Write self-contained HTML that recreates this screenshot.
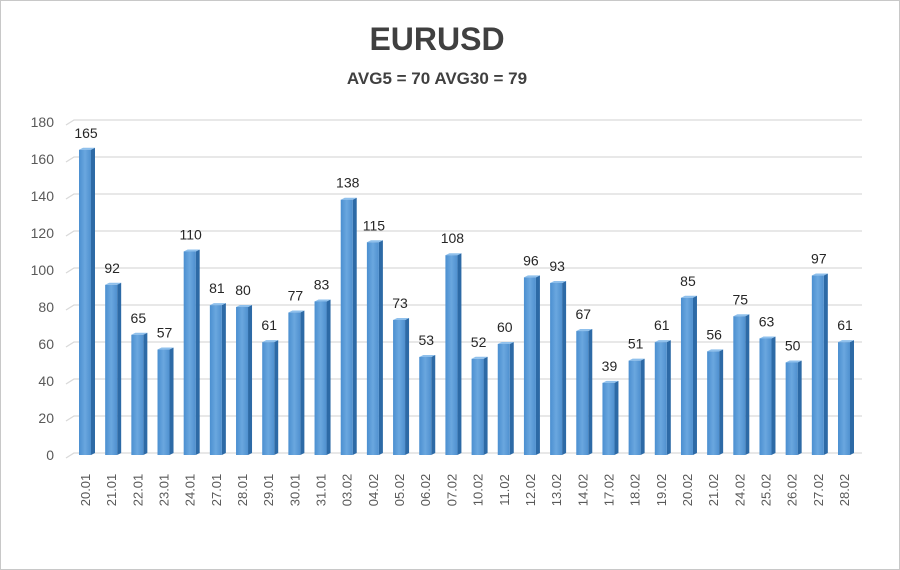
<!DOCTYPE html>
<html><head><meta charset="utf-8"><style>
html,body{margin:0;padding:0;background:#fff}
svg{display:block;font-family:"Liberation Sans",sans-serif}
</style></head><body>
<svg width="900" height="570" viewBox="0 0 900 570">
<defs>
<linearGradient id="bf" x1="0" x2="1" y1="0" y2="0">
<stop offset="0" stop-color="#4b8fd0"/><stop offset="0.5" stop-color="#6aa7df"/><stop offset="1" stop-color="#4f90cf"/>
</linearGradient>
</defs>
<rect x="0.5" y="0.5" width="899" height="569" fill="#fff" stroke="#c8c8c8"/>
<text x="437" y="50" text-anchor="middle" font-size="32" font-weight="bold" fill="#404040">EURUSD</text>
<text x="437" y="84" text-anchor="middle" font-size="17" font-weight="bold" fill="#404040">AVG5 = 70 AVG30 = 79</text>
<g id="grid"></g><g id="bars"></g><g id="labels"></g>
</svg>
<script>
const categories=["20.01","21.01","22.01","23.01","24.01","27.01","28.01","29.01","30.01","31.01","03.02","04.02","05.02","06.02","07.02","10.02","11.02","12.02","13.02","14.02","17.02","18.02","19.02","20.02","21.02","24.02","25.02","26.02","27.02","28.02"];
const values=[165,92,65,57,110,81,80,61,77,83,138,115,73,53,108,52,60,96,93,67,39,51,61,85,56,75,63,50,97,61];
const yTicks=[0,20,40,60,80,100,120,140,160,180];
const NS="http://www.w3.org/2000/svg";
const y0=455,yTop=122,yMax=180;
function yScale(v){return y0-(v/yMax)*(y0-yTop);}
const x0=85,x1=844;
function xScale(i){return x0+i*(x1-x0)/(categories.length-1);}
function mk(tag,attrs,parent){const e=document.createElementNS(NS,tag);for(const k in attrs)e.setAttribute(k,attrs[k]);parent.appendChild(e);return e;}
const grid=document.getElementById('grid'),bars=document.getElementById('bars'),labels=document.getElementById('labels');
yTicks.forEach(t=>{
  const y=yScale(t);
  const l=mk('polyline',{points:`66,${y+3} 74,${y-2} 862,${y-2}`,fill:'none',stroke:'#d9d9d9','stroke-width':1.3},grid);
  
  
  const tx=mk('text',{x:54,y:y+5,'text-anchor':'end','font-size':14,fill:'#595959'},grid);
  tx.textContent=t;
  
  
});
values.forEach((v,i)=>{
  const cx=xScale(i),w=12,y=yScale(v);
  const g=mk('g',{},bars);
  
  
  mk('polygon',{points:`${cx+w/2},${y} ${cx+w/2+4},${y-2} ${cx+w/2+4},${y0-2} ${cx+w/2},${y0}`,fill:'#2d6aa6'},g);
  mk('polygon',{points:`${cx-w/2},${y} ${cx-w/2+4},${y-2} ${cx+w/2+4},${y-2} ${cx+w/2},${y}`,fill:'#8fc0ec'},g);
  mk('rect',{x:cx-w/2,y:y,width:w,height:y0-y,fill:'url(#bf)'},g);
  const t=mk('text',{x:cx+1,y:y-12,'text-anchor':'middle','font-size':14,fill:'#262626'},labels);
  t.textContent=v;
  
  
  const c=mk('text',{x:0,y:0,'text-anchor':'middle','font-size':13,fill:'#595959',transform:`translate(${cx+5},490) rotate(-90)`},labels);
  c.textContent=categories[i];
  
  
});
</script>
</body></html>
